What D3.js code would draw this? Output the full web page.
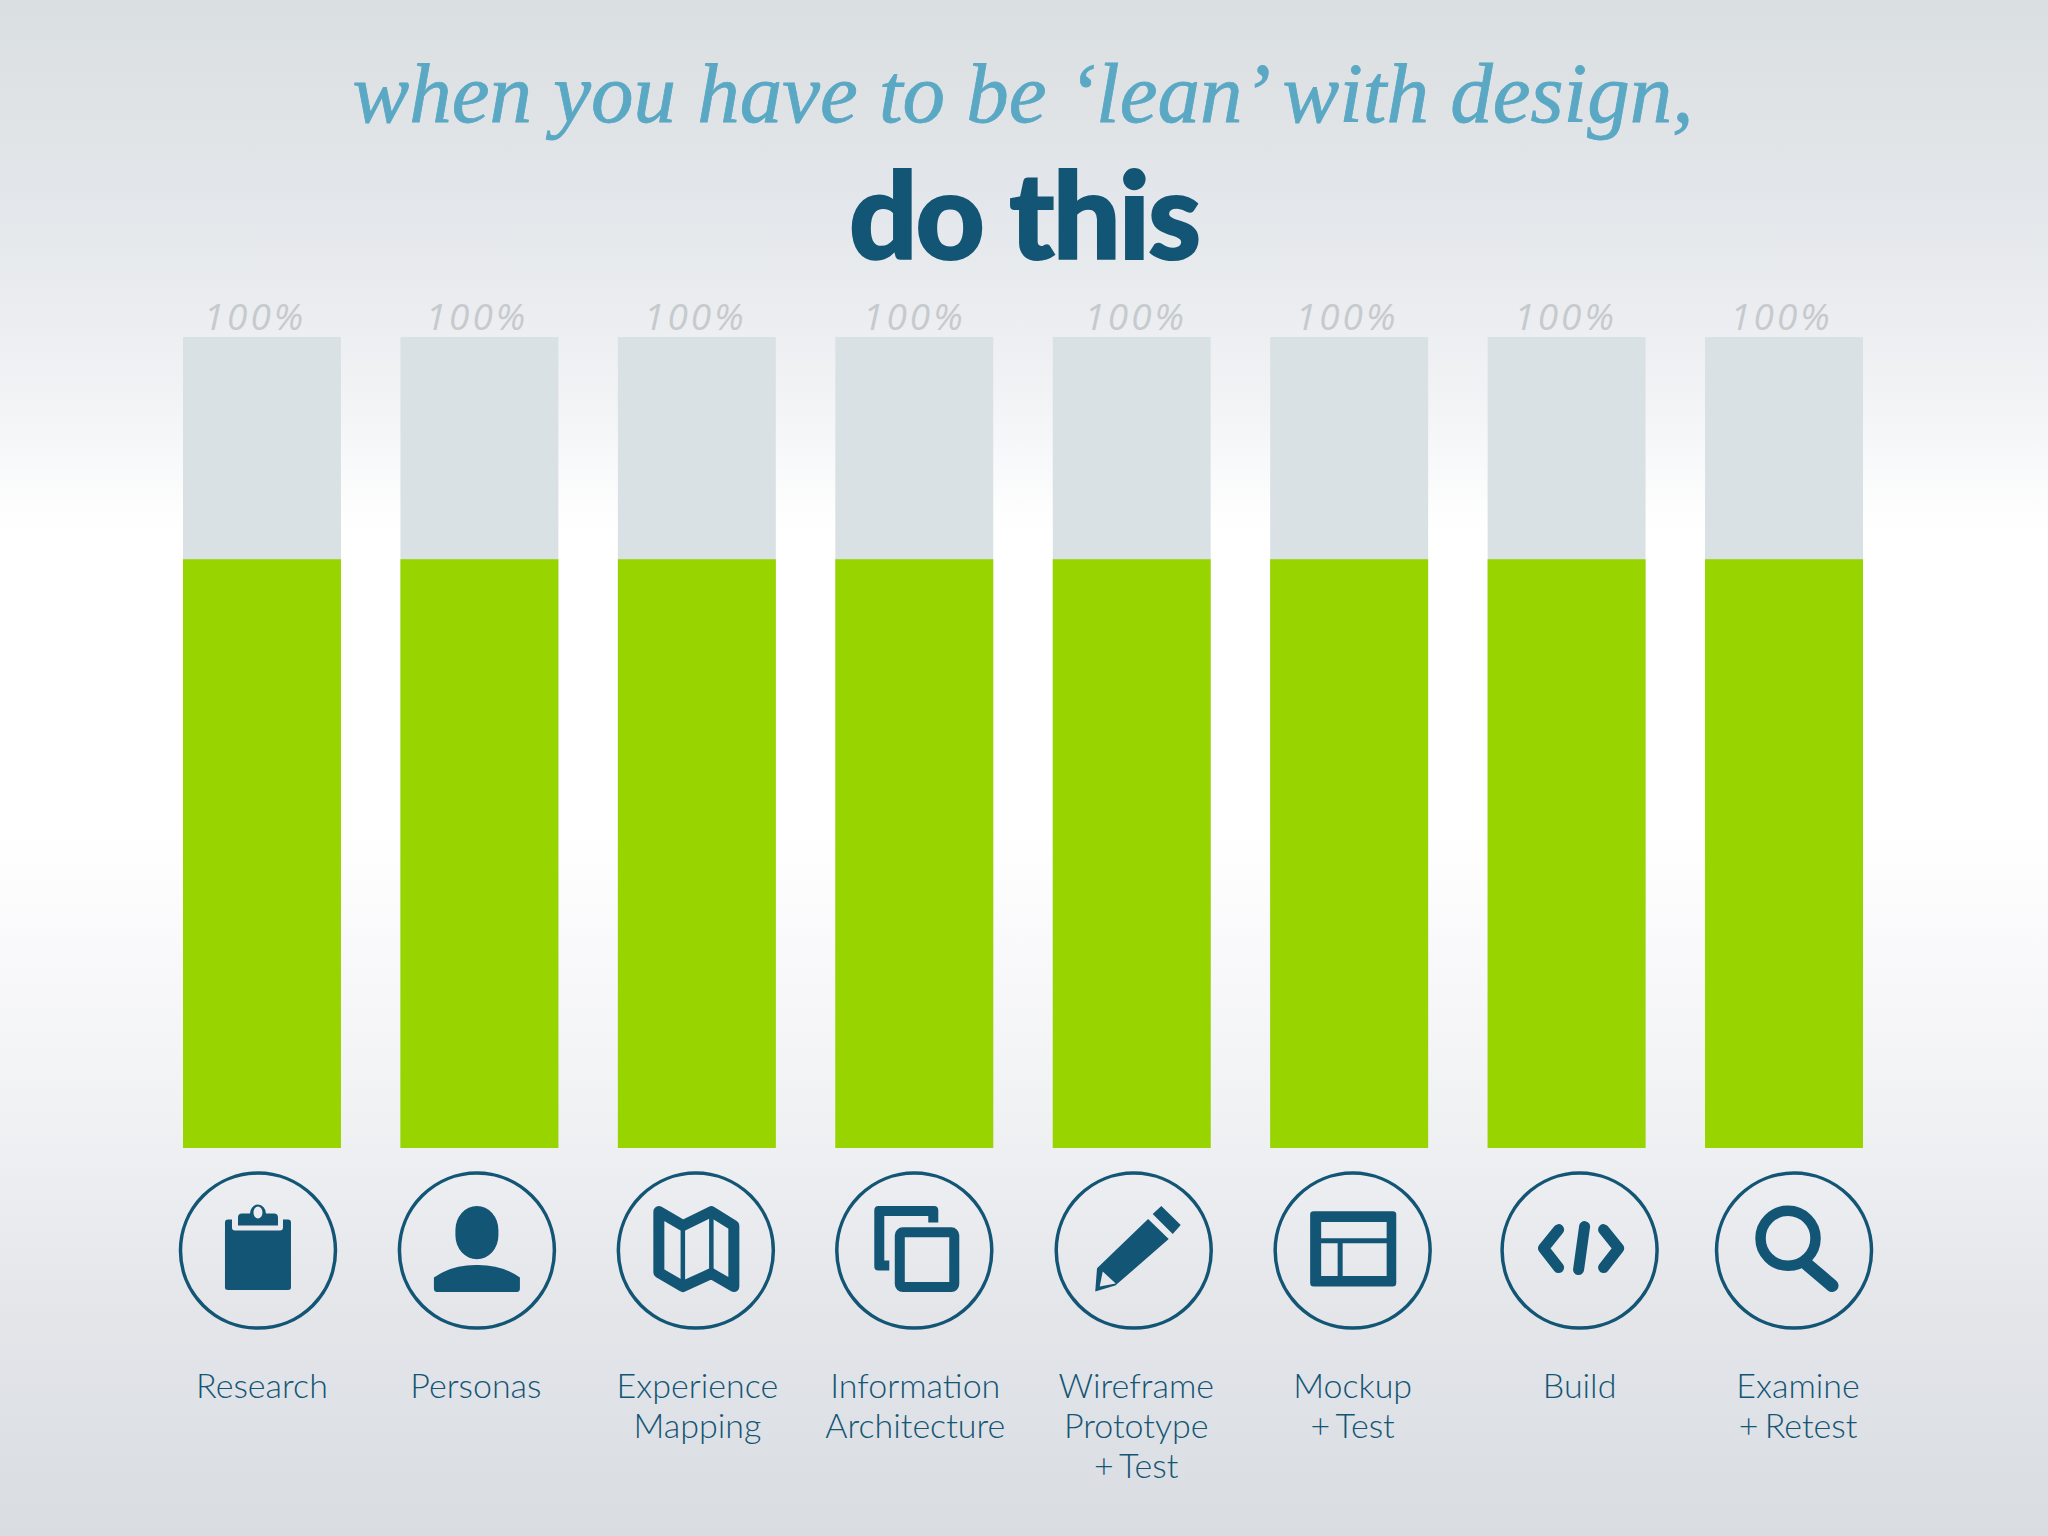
<!DOCTYPE html>
<html>
<head>
<meta charset="utf-8">
<script src="https://cdn.jsdelivr.net/npm/d3@7"></script>
<style>
  html, body { margin: 0; padding: 0; background: #fff; }
  svg { display: block; }
</style>
</head>
<body>
<svg id="chart" width="2048" height="1536" viewBox="0 0 2048 1536"></svg>
<script>
// values
const categories = ["Research", "Personas", "Experience Mapping", "Information Architecture",
  "Wireframe Prototype + Test", "Mockup + Test", "Build", "Examine + Retest"];
const labelLines = [["Research"], ["Personas"], ["Experience", "Mapping"], ["Information", "Architecture"],
  ["Wireframe", "Prototype", "+ Test"], ["Mockup", "+ Test"], ["Build"], ["Examine", "+ Retest"]];
const totalValues = [100, 100, 100, 100, 100, 100, 100, 100];
const filledValues = [72.6, 72.6, 72.6, 72.6, 72.6, 72.6, 72.6, 72.6];
const iconNames = ["clipboard", "person", "map", "copy", "pencil", "layout", "code", "search"];

// the source artwork is hand placed, so things drift a little from the bar centres
const pctNudge = [-7, -2.5, -1.5, 0, 4, -2, -1, -2.5];
const iconNudge = [-4, -2.5, -1, 0, 2, 3.5, 13, 10];
const labelNudge = [0, -3.5, 0.5, 1, 4.5, 3.5, 13, 14];

const DARK = "#135574";

const svg = d3.select("#chart");

const bg = svg.append("defs").append("linearGradient")
  .attr("id", "bg").attr("x1", 0).attr("y1", 0).attr("x2", 0).attr("y2", 1);
[[0, "#dadfe1"], [0.13, "#e3e6ea"], [0.26, "#f1f3f5"], [0.345, "#ffffff"], [0.54, "#ffffff"],
  [0.62, "#f9f9fb"], [0.72, "#f1f2f4"], [0.85, "#e4e6ea"], [0.94, "#dde0e5"], [1, "#d9dde1"]].forEach((s) => {
  bg.append("stop").attr("offset", s[0]).attr("stop-color", s[1]);
});
svg.append("rect").attr("width", 2048).attr("height", 1536).attr("fill", "url(#bg)");

const xScale = d3.scaleBand()
  .domain(categories)
  .range([183, 1863])
  .paddingInner(0.2736);

const yScale = d3.scaleLinear()
  .domain([0, 100])
  .range([1148, 337]);

// title
svg.append("text")
  .text("when you have to be \u2018lean\u2019 with design,")
  .attr("x", 1023).attr("y", 122)
  .attr("text-anchor", "middle")
  .attr("font-family", "'Liberation Serif'")
  .attr("font-style", "italic")
  .attr("font-size", 85)
  .attr("fill", "#5aa8c4")
  .attr("stroke", "#5aa8c4")
  .attr("stroke-width", 0.8);

svg.append("text")
  .text("do this")
  .attr("x", 1024).attr("y", 259)
  .attr("text-anchor", "middle")
  .attr("font-family", "Lato")
  .attr("font-weight", 900)
  .attr("font-size", 120)
  .attr("letter-spacing", -2)
  .attr("fill", DARK)
  .attr("stroke", DARK)
  .attr("stroke-width", 2);

// bars
const rows = categories.map((c, i) => ({
  name: c, total: totalValues[i], filled: filledValues[i], lines: labelLines[i], icon: iconNames[i], i: i,
}));

svg.selectAll(".bar-total")
  .data(rows)
  .join("rect")
  .attr("class", "bar-total")
  .attr("x", (d) => xScale(d.name))
  .attr("y", (d) => yScale(d.total))
  .attr("width", xScale.bandwidth())
  .attr("height", (d) => yScale(0) - yScale(d.total))
  .attr("fill", "#dae1e5");

svg.selectAll(".bar-filled")
  .data(rows)
  .join("rect")
  .attr("class", "bar-filled")
  .attr("x", (d) => xScale(d.name))
  .attr("y", (d) => yScale(d.filled))
  .attr("width", xScale.bandwidth())
  .attr("height", (d) => yScale(0) - yScale(d.filled))
  .attr("fill", "#97d400");

svg.selectAll(".bar-pct")
  .data(rows)
  .join("text")
  .attr("class", "bar-pct")
  .text((d) => d.total + "%")
  .attr("x", (d) => xScale(d.name) + xScale.bandwidth() / 2 + pctNudge[d.i])
  .attr("y", (d) => yScale(d.total) - 7)
  .attr("text-anchor", "middle")
  .attr("font-family", "'Open Sans'")
  .attr("font-weight", 400)
  .attr("font-style", "italic")
  .attr("font-size", 37)
  .attr("letter-spacing", 3)
  .attr("fill", "#c6cacd");

// icons, drawn around the circle centre
const icons = {
  clipboard(g) {
    g.append("path").attr("fill", DARK).attr("fill-rule", "evenodd")
      .attr("d", "M-33,-28Q-33,-31 -30,-31L-26,-31L-26,-23Q-26,-20 -23,-20L22,-20Q25,-20 25,-23L25,-31L30,-31Q33,-31 33,-28L33,37Q33,39.5 30,39.5L-30,39.5Q-33,39.5 -33,37Z"
        + "M-20,-25L-20,-33Q-20,-37 -16,-37L-8,-37A8,9 0 1 1 8,-37L16,-37Q20,-37 20,-33L20,-25Z"
        + "M-4.5,-38a4.5,6 0 1 0 9,0a4.5,6 0 1 0 -9,0Z");
  },
  person(g) {
    g.append("rect").attr("x", -21.5).attr("y", -44.6).attr("width", 43).attr("height", 53.3)
      .attr("rx", 21.5).attr("ry", 24).attr("fill", DARK);
    g.append("path").attr("fill", DARK)
      .attr("d", "M-43,27Q-25,14 0,14.4Q25,14 43,27L43,38Q43,41.4 40,41.4L-40,41.4Q-43,41.4 -43,38Z");
  },
  map(g) {
    g.append("path").attr("fill", "none").attr("stroke", DARK).attr("stroke-width", 11).attr("stroke-linejoin", "round")
      .attr("d", "M-37,-39L-13,-25L15.5,-39L38,-25L38,36L15.5,23L-13,36L-37,22Z");
    g.append("path").attr("fill", "none").attr("stroke", DARK).attr("stroke-width", 4.5)
      .attr("d", "M-13,-25L-13,36M15.5,-39L15.5,23");
  },
  copy(g) {
    g.append("path").attr("fill", DARK)
      .attr("d", "M-36,-44.6L20,-44.6Q24,-44.6 24,-40L24,-28L14,-28L14,-34.6L-30,-34.6L-30,10L-25,10L-25,20L-36,20Q-40,20 -40,16L-40,-40Q-40,-44.6 -36,-44.6Z");
    g.append("rect").attr("x", -14.5).attr("y", -18.3).attr("width", 54.5).attr("height", 54.7).attr("rx", 3)
      .attr("fill", "none").attr("stroke", DARK).attr("stroke-width", 10);
  },
  pencil(g) {
    g.append("path").attr("fill", DARK).attr("fill-rule", "evenodd")
      .attr("d", "M27.6,-44.6L47,-25.6L39,-16.6L19,-36.6Z"
        + "M14.4,-31.6L35,-11.6L-18.4,35L-38.5,41L-36.7,17.7Z"
        + "M-31,21L-18,33L-34,36Z");
  },
  layout(g) {
    g.append("path").attr("fill", DARK).attr("fill-rule", "evenodd")
      .attr("d", "M-39,-39.3L40,-39.3Q43.6,-39.3 43.6,-36L43.6,32.5Q43.6,36 40,36L-39,36Q-42.5,36 -42.5,32.5L-42.5,-36Q-42.5,-39.3 -39,-39.3Z"
        + "M-31.5,-28.6L34,-28.6L34,-12.3L-31.5,-12.3Z"
        + "M-31.5,-7.3L-15,-7.3L-15,25.4L-31.5,25.4Z"
        + "M-10,-7.3L34,-7.3L34,25.4L-10,25.4Z");
  },
  code(g) {
    g.append("path").attr("fill", "none").attr("stroke", DARK).attr("stroke-width", 11)
      .attr("stroke-linecap", "round").attr("stroke-linejoin", "round")
      .attr("d", "M-21,-21L-36,-2.3L-21,17M24,-21L39,-2.3L24,17M5,-24L-1,19");
  },
  search(g) {
    g.append("circle").attr("cx", -6).attr("cy", -12.3).attr("r", 27.5)
      .attr("fill", "none").attr("stroke", DARK).attr("stroke-width", 10.5);
    g.append("path").attr("fill", "none").attr("stroke", DARK).attr("stroke-width", 13).attr("stroke-linecap", "round")
      .attr("d", "M11,12L38,35");
  },
};

const iconGroups = svg.selectAll(".icon")
  .data(rows)
  .join("g")
  .attr("class", "icon")
  .attr("transform", (d) => `translate(${xScale(d.name) + xScale.bandwidth() / 2 + iconNudge[d.i]},1250.6)`);

iconGroups.append("circle")
  .attr("r", 77.5)
  .attr("fill", "none")
  .attr("stroke", DARK)
  .attr("stroke-width", 3.5);

iconGroups.each(function (d) {
  icons[d.icon](d3.select(this));
});

// category labels
svg.selectAll(".cat-label")
  .data(rows)
  .join("text")
  .attr("class", "cat-label")
  .attr("text-anchor", "middle")
  .attr("font-family", "Lato")
  .attr("font-weight", 300)
  .attr("font-size", 34)
  .attr("word-spacing", -3)
  .attr("fill", DARK)
  .selectAll("tspan")
  .data((d) => d.lines.map((l, n) => ({ text: l, n: n, parent: d })))
  .join("tspan")
  .text((d) => d.text)
  .attr("x", (d) => xScale(d.parent.name) + xScale.bandwidth() / 2 + labelNudge[d.parent.i])
  .attr("y", (d) => 1398 + d.n * 40);
</script>
</body>
</html>
